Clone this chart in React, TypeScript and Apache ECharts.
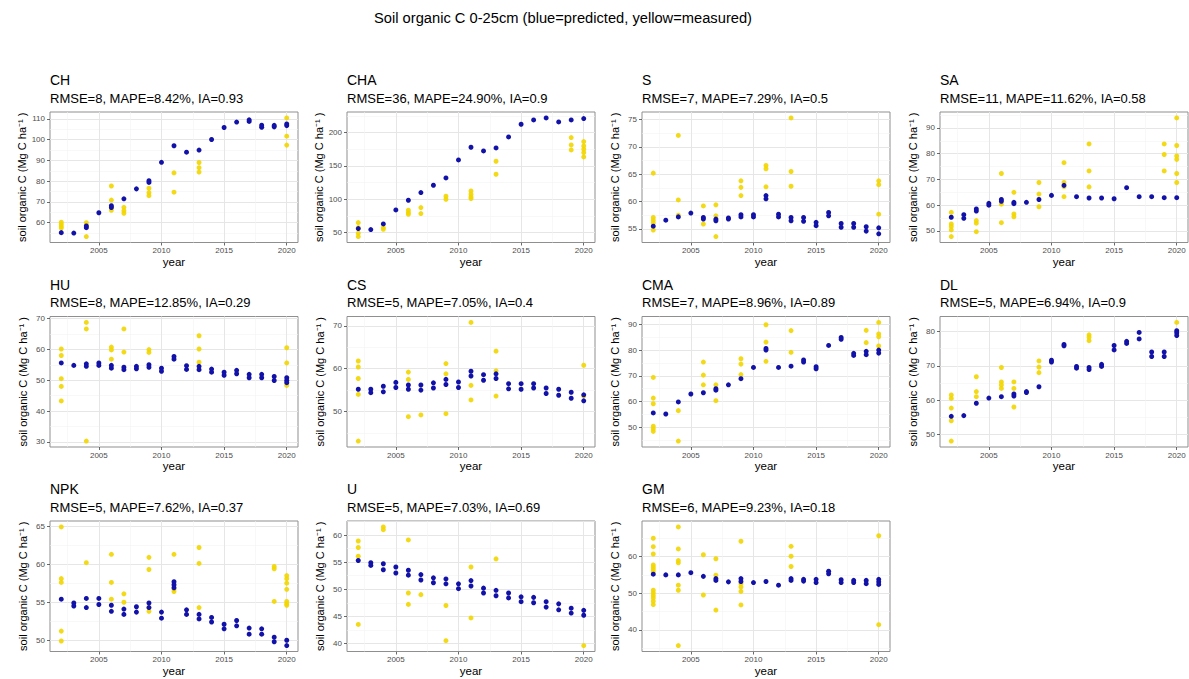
import React, { useEffect, useRef } from "react";
import * as echarts from "echarts";

// ---- shared scale values ----
const YEARS = [2002, 2003, 2004, 2005, 2006, 2007, 2008, 2009, 2010, 2011, 2012, 2013, 2014, 2015, 2016, 2017, 2018, 2019, 2020];
const YEAR_TICKS = [2005, 2010, 2015, 2020];
const YEAR_MINOR = [2002.5, 2007.5, 2012.5, 2017.5];

const MAIN_TITLE = "Soil organic C 0-25cm (blue=predicted, yellow=measured)";
const Y_NAME = "soil organic C (Mg C ha\u207B\u00B9 )";

// ---- CH ----
const chStats = "RMSE=8, MAPE=8.42%, IA=0.93";
const chPredicted = [[55.2], [55.0], [57.6, 58.4], [64.8], [67.3, 68.2], [71.5], [76.3], [79.4, 80.2], [89.1], [97.1], [94.0], [95.0], [100.1], [105.9], [108.5], [108.8, 109.6], [106.0, 107.0], [106.2, 106.9], [106.8, 107.6]];
const chMeasuredYears = [2002, 2004, 2006, 2007, 2009, 2011, 2013, 2020];
const chMeasured = [[60.2, 59.2, 58.2, 57.4], [60.0, 58.5, 53.3], [77.7, 70.9, 67.4, 66.0], [67.4, 65.8, 64.5], [76.6, 74.5, 73.0], [84.0, 74.7], [89.0, 86.5, 84.4], [110.5, 101.7, 97.4]];
const chTicks = [60, 70, 80, 90, 100, 110];

// ---- CHA ----
const chaStats = "RMSE=36, MAPE=24.90%, IA=0.9";
const chaPredicted = [[56], [54.5], [63], [84], [98.5], [110], [121], [132], [159], [178], [172.5], [177], [193.5], [212.5], [219], [222], [216], [219], [221]];
const chaMeasuredYears = [2002, 2004, 2006, 2007, 2009, 2011, 2013, 2019, 2020];
const chaMeasured = [[65, 57.5, 49, 44], [57.5, 55], [83.5, 80, 77.5], [87.5, 78.5], [104.5, 100], [112.5, 107.5, 103.5, 101], [157, 137.5], [192.5, 181.5, 174], [186.5, 180, 175, 170, 163.5]];
const chaTicks = [50, 100, 150, 200];

// ---- S ----
const sStats = "RMSE=7, MAPE=7.29%, IA=0.5";
const sPredicted = [[55.5], [56.6], [57.2], [57.9], [57.1, 56.8], [56.8, 56.5], [57.0, 56.8], [57.6, 57.2], [57.6, 57.2], [61.1, 60.5], [57.7, 57.2], [57.1, 56.5], [57.1, 56.4], [56.2, 55.6], [58.0, 57.4], [56.0, 55.3], [56.0, 55.3], [55.4, 54.6], [55.2, 54.1]];
const sMeasuredYears = [2002, 2004, 2006, 2007, 2009, 2011, 2013, 2020];
const sMeasured = [[65.2, 57.1, 56.6, 56.1, 54.8], [72.1, 60.3, 57.5], [59.2, 55.9], [59.4, 57.4, 53.6], [63.8, 62.6, 61.1], [66.6, 66.0, 62.7], [75.3, 65.5, 62.8], [63.8, 63.1, 57.7]];
const sTicks = [55, 60, 65, 70, 75];

// ---- SA ----
const saStats = "RMSE=11, MAPE=11.62%, IA=0.58";
const saPredicted = [[55.3], [56.3, 54.9], [58.5, 57.7], [60.7, 60.0], [62.2, 61.5], [61.1, 60.6], [61.1], [62.2], [63.8], [67.7], [63.3], [62.8], [62.8], [62.5], [66.8], [63.3], [63.3], [62.9], [62.9]];
const saMeasuredYears = [2002, 2004, 2006, 2007, 2009, 2011, 2013, 2019, 2020];
const saMeasured = [[57.2, 52.7, 51.7, 50.4, 47.8], [54.0, 53.0, 49.7], [72.3, 60.4, 53.2], [65.0, 56.6, 55.5], [68.8, 64.3, 59.4], [76.5, 68.8, 67.2, 63.3], [83.8, 73.3, 67.1], [83.8, 79.7, 73.3], [93.9, 83.2, 79.1, 77.8, 72.3, 68.8]];
const saTicks = [50, 60, 70, 80, 90];

// ---- HU ----
const huStats = "RMSE=8, MAPE=12.85%, IA=0.29";
const huPredicted = [[55.6], [54.8], [55.3, 54.5], [55.6, 54.8], [54.8, 53.9], [54.2, 53.4], [54.5, 53.7], [55.0, 54.2], [53.9, 52.9], [57.7, 56.8], [54.7, 53.5], [54.5, 53.4], [53.6, 52.6], [52.6, 51.6], [53.2, 52.1], [51.9, 50.8], [51.9, 50.8], [51.2, 49.9], [50.8, 49.9, 49.2]];
const huMeasuredYears = [2002, 2004, 2006, 2007, 2009, 2013, 2020];
const huMeasured = [[60.1, 58.0, 50.5, 48.0, 43.3], [68.7, 66.6, 30.3], [60.7, 59.8, 56.8], [66.6, 59.1], [59.9, 59.0], [64.4, 60.1, 55.8], [60.5, 55.6, 48.3]];
const huTicks = [30, 40, 50, 60, 70];

// ---- CS ----
const csStats = "RMSE=5, MAPE=7.05%, IA=0.4";
const csPredicted = [[55.2], [55.2, 54.4], [55.9, 54.6], [56.8, 55.6], [56.2, 55.2], [56.2, 55.0], [56.7, 55.5], [57.5, 56.3], [56.9, 55.6], [59.4, 58.3], [58.6, 57.3], [58.8, 57.7], [56.5, 55.3], [56.5, 55.2], [56.5, 55.5], [55.5, 54.2], [55.2, 53.8], [54.5, 53.1], [53.9, 52.5]];
const csMeasuredYears = [2002, 2006, 2007, 2009, 2011, 2013, 2020];
const csMeasured = [[61.8, 60.4, 57.7, 54.0, 43.1], [59.2, 57.5, 48.8], [49.2], [61.2, 58.8, 49.5], [70.8, 56.1, 52.7], [64.1, 59.5, 53.6], [60.8, 53.6]];
const csTicks = [50, 60, 70];

// ---- CMA ----
const cmaStats = "RMSE=7, MAPE=8.96%, IA=0.89";
const cmaPredicted = [[55.5], [55.1], [59.8], [62.9], [63.4], [65.0, 64.4], [66.5], [68.9], [73.3], [80.7, 80.1], [73.3], [73.8], [76.2, 75.4], [73.6, 72.8], [81.9], [85.0, 84.3], [78.8, 78.0], [79.6, 78.3], [80.1, 78.9]];
const cmaMeasuredYears = [2002, 2004, 2006, 2007, 2009, 2011, 2013, 2019, 2020];
const cmaMeasured = [[69.4, 61.3, 59.1, 50.3, 49.3, 48.3], [56.4, 44.5], [75.4, 70.3, 66.5], [66.5, 60.3], [76.7, 74.6, 70.5], [90.0, 83.2, 75.7], [87.7, 79.2], [87.8, 83.0], [90.9, 86.4, 85.3, 81.7]];
const cmaTicks = [50, 60, 70, 80, 90];

// ---- DL ----
const dlStats = "RMSE=5, MAPE=6.94%, IA=0.9";
const dlPredicted = [[55.3], [55.5], [59.1], [60.6], [61.0], [61.8, 61.2], [62.5, 62.2], [63.9], [71.6, 71.1], [76.2, 75.8], [69.8, 69.3], [69.5, 68.9], [70.4, 69.8], [75.9, 74.6], [77.1, 76.5], [79.7, 77.8], [74.0, 72.7], [74.0, 72.7], [80.2, 79.6, 78.8]];
const dlMeasuredYears = [2002, 2004, 2006, 2007, 2009, 2013, 2020];
const dlMeasured = [[61.5, 60.5, 57.7, 54.0, 48.1], [66.8, 62.5, 61.0], [69.5, 65.3, 64.4, 63.4], [65.3, 63.4, 58.0], [71.4, 69.6, 68.0], [79.0, 78.3, 77.3], [82.6]];
const dlTicks = [50, 60, 70, 80];

// ---- NPK ----
const npkStats = "RMSE=5, MAPE=7.62%, IA=0.37";
const npkPredicted = [[55.4], [54.9, 54.5], [55.5, 54.3], [55.5, 54.7], [54.6, 53.8], [54.1, 53.4], [54.4, 53.7], [54.9, 54.3], [53.7, 52.9], [57.7, 57.3, 56.9], [54.0, 53.4], [53.4, 52.8], [53.0, 52.4], [52.1, 51.5], [52.6, 51.9], [51.6, 50.8], [51.5, 50.8], [50.4, 49.8], [50.0, 49.3]];
const npkMeasuredYears = [2002, 2004, 2006, 2007, 2009, 2011, 2013, 2019, 2020];
const npkMeasured = [[64.9, 58.1, 57.6, 51.2, 49.9], [60.2], [61.3, 57.6, 55.4], [56.1, 55.0], [60.9, 59.3, 54.3, 53.8], [61.3, 56.7, 56.4], [62.2, 60.1, 54.3], [59.7, 59.4, 55.1], [58.5, 58.1, 57.5, 56.7, 55.1, 54.8, 54.6]];
const npkTicks = [50, 55, 60, 65];

// ---- U ----
const uStats = "RMSE=5, MAPE=7.03%, IA=0.69";
const uPredicted = [[55.3], [54.9, 54.4], [54.7, 53.6], [54.1, 53.0], [53.5, 52.6], [52.7, 51.7], [52.1, 51.2], [51.9, 51.0], [51.0, 50.1], [51.6, 50.6], [50.2, 49.3], [49.8, 48.8], [49.3, 48.4], [48.6, 47.7], [48.5, 47.5], [47.7, 46.7], [47.3, 46.2], [46.5, 45.6], [46.1, 45.2]];
const uMeasuredYears = [2002, 2004, 2006, 2007, 2009, 2011, 2013, 2020];
const uMeasured = [[58.9, 57.7, 56.1, 43.5], [61.5, 61.0], [59.1, 49.3, 47.2], [49.0], [47.0, 40.5], [54.1, 44.7], [55.6], [39.6]];
const uTicks = [40, 45, 50, 55, 60];

// ---- GM ----
const gmStats = "RMSE=6, MAPE=9.23%, IA=0.18";
const gmPredicted = [[55.2], [55.0], [55.0], [55.6], [54.6], [54.0, 53.5], [53.1], [54.0, 53.2], [52.9], [53.2], [52.2], [54.0, 53.5], [53.8, 53.3], [53.8, 52.9], [56.0, 55.3], [53.7, 52.9], [53.5, 52.9], [53.5, 52.6], [53.8, 53.1, 52.4]];
const gmMeasuredYears = [2002, 2004, 2006, 2007, 2009, 2013, 2020];
const gmMeasured = [[65.0, 62.7, 60.7, 57.7, 57.1, 56.5, 55.8, 50.8, 50.1, 49.4, 48.7, 47.8, 46.9], [68.1, 62.1, 58.9, 58.3, 52.2, 50.8, 35.7], [60.5, 49.5], [59.4, 54.9, 45.4], [64.2, 52.6, 51.7, 50.5, 46.8], [62.8, 60.1, 57.3], [65.7, 41.4]];
const gmTicks = [40, 50, 60];

type Panel = {
  name: string;
  stats: string;
  predicted: number[][];
  measuredYears: number[];
  measured: number[][];
  ticks: number[];
};

const PANELS: Panel[] = [
  { name: "CH", stats: chStats, predicted: chPredicted, measuredYears: chMeasuredYears, measured: chMeasured, ticks: chTicks },
  { name: "CHA", stats: chaStats, predicted: chaPredicted, measuredYears: chaMeasuredYears, measured: chaMeasured, ticks: chaTicks },
  { name: "S", stats: sStats, predicted: sPredicted, measuredYears: sMeasuredYears, measured: sMeasured, ticks: sTicks },
  { name: "SA", stats: saStats, predicted: saPredicted, measuredYears: saMeasuredYears, measured: saMeasured, ticks: saTicks },
  { name: "HU", stats: huStats, predicted: huPredicted, measuredYears: huMeasuredYears, measured: huMeasured, ticks: huTicks },
  { name: "CS", stats: csStats, predicted: csPredicted, measuredYears: csMeasuredYears, measured: csMeasured, ticks: csTicks },
  { name: "CMA", stats: cmaStats, predicted: cmaPredicted, measuredYears: cmaMeasuredYears, measured: cmaMeasured, ticks: cmaTicks },
  { name: "DL", stats: dlStats, predicted: dlPredicted, measuredYears: dlMeasuredYears, measured: dlMeasured, ticks: dlTicks },
  { name: "NPK", stats: npkStats, predicted: npkPredicted, measuredYears: npkMeasuredYears, measured: npkMeasured, ticks: npkTicks },
  { name: "U", stats: uStats, predicted: uPredicted, measuredYears: uMeasuredYears, measured: uMeasured, ticks: uTicks },
  { name: "GM", stats: gmStats, predicted: gmPredicted, measuredYears: gmMeasuredYears, measured: gmMeasured, ticks: gmTicks },
];

// ---- layout ----
const WIDTH = 1189;
const HEIGHT = 679;
const COL_LEFT = [50, 347, 642, 940];
const ROW_TOP = [112, 316.5, 521];
const PANEL_W = 248;
const PANEL_H = 130.5;

const FONT = "'Liberation Sans', Arial, Helvetica, sans-serif";
const BLUE = "#1212a8";
const YELLOW = "#f2d600";

function toPairs(years: number[], values: number[][]): number[][] {
  const out: number[][] = [];
  years.forEach((y, i) => values[i].forEach((v) => out.push([y, v])));
  return out;
}

// ggplot-style continuous limits: data range expanded by 5 % on both sides
function expand(lo: number, hi: number): [number, number] {
  const d = (hi - lo) * 0.05;
  return [lo - d, hi + d];
}

function minorBreaks(ticks: number[], lo: number, hi: number): number[] {
  const step = ticks[1] - ticks[0];
  const out: number[] = [];
  const first = ticks[0] - step / 2;
  if (first >= lo) out.push(first);
  for (let i = 0; i < ticks.length - 1; i++) out.push((ticks[i] + ticks[i + 1]) / 2);
  const last = ticks[ticks.length - 1] + step / 2;
  if (last <= hi) out.push(last);
  return out;
}

const plain = (v: number) => String(v);

function buildOption(): echarts.EChartsOption {
  const grids: any[] = [];
  const xAxes: any[] = [];
  const yAxes: any[] = [];
  const series: any[] = [];
  const graphics: any[] = [];

  const [xMin, xMax] = expand(YEARS[0], YEARS[YEARS.length - 1]);

  graphics.push({
    type: "text",
    x: 563,
    y: 18,
    style: {
      text: MAIN_TITLE,
      font: `14.7px ${FONT}`,
      fill: "#000",
      align: "center",
      verticalAlign: "middle",
    },
  });

  PANELS.forEach((p, i) => {
    const left = COL_LEFT[i % 4];
    const top = ROW_TOP[Math.floor(i / 4)];
    const predicted = toPairs(YEARS, p.predicted);
    const measured = toPairs(p.measuredYears, p.measured);
    const all = predicted.concat(measured).map((d) => d[1]);
    const [yMin, yMax] = expand(Math.min(...all), Math.max(...all));

    grids.push({
      left,
      top,
      width: PANEL_W,
      height: PANEL_H,
      show: true,
      backgroundColor: "#fff",
      borderColor: "#8f8f8f",
      borderWidth: 1,
    });

    const labelStyle = { fontSize: 8, color: "#4d4d4d", fontFamily: FONT, formatter: plain };

    // major x axis
    xAxes.push({
      gridIndex: i,
      type: "value",
      min: xMin,
      max: xMax,
      name: "year",
      nameLocation: "middle",
      nameGap: 13,
      nameTextStyle: { fontSize: 11.5, color: "#000", fontFamily: FONT },
      axisLine: { show: false },
      axisTick: { show: true, length: 3, customValues: YEAR_TICKS, lineStyle: { color: "#444", width: 0.8 } },
      axisLabel: { ...labelStyle, margin: 4, customValues: YEAR_TICKS },
      splitLine: { show: true, lineStyle: { color: "#e6e6e6", width: 1 } },
    });
    // minor x grid
    xAxes.push({
      gridIndex: i,
      type: "value",
      min: xMin,
      max: xMax,
      axisLine: { show: false },
      axisTick: { show: false, customValues: YEAR_MINOR },
      axisLabel: { show: false, customValues: YEAR_MINOR },
      splitLine: { show: true, lineStyle: { color: "#f3f3f3", width: 0.6 } },
    });

    const yMinor = minorBreaks(p.ticks, yMin, yMax);
    yAxes.push({
      gridIndex: i,
      type: "value",
      min: yMin,
      max: yMax,
      name: Y_NAME,
      nameLocation: "middle",
      nameGap: 22,
      nameTextStyle: { fontSize: 11, color: "#000", fontFamily: FONT },
      axisLine: { show: false },
      axisTick: { show: true, length: 3, customValues: p.ticks, lineStyle: { color: "#444", width: 0.8 } },
      axisLabel: { ...labelStyle, margin: 5, customValues: p.ticks },
      splitLine: { show: true, lineStyle: { color: "#e6e6e6", width: 1 } },
    });
    yAxes.push({
      gridIndex: i,
      type: "value",
      min: yMin,
      max: yMax,
      position: "right",
      axisLine: { show: false },
      axisTick: { show: false, customValues: yMinor },
      axisLabel: { show: false, customValues: yMinor },
      splitLine: { show: true, lineStyle: { color: "#f3f3f3", width: 0.6 } },
    });

    series.push({
      type: "scatter",
      name: `${p.name} measured`,
      xAxisIndex: i * 2,
      yAxisIndex: i * 2,
      data: measured,
      symbolSize: 5,
      itemStyle: { color: YELLOW, opacity: 0.9 },
      z: 3,
    });
    series.push({
      type: "scatter",
      name: `${p.name} predicted`,
      xAxisIndex: i * 2,
      yAxisIndex: i * 2,
      data: predicted,
      symbolSize: 5,
      itemStyle: { color: BLUE, opacity: 1 },
      z: 4,
    });

    graphics.push({
      type: "text",
      x: left,
      y: top - 32,
      style: { text: p.name, font: `14px ${FONT}`, fill: "#000", verticalAlign: "middle" },
    });
    graphics.push({
      type: "text",
      x: left,
      y: top - 14,
      style: { text: p.stats, font: `13px ${FONT}`, fill: "#000", verticalAlign: "middle" },
    });
  });

  return {
    animation: false,
    backgroundColor: "#fff",
    textStyle: { fontFamily: FONT },
    grid: grids,
    xAxis: xAxes,
    yAxis: yAxes,
    series,
    graphic: graphics,
  };
}

export default function App() {
  const ref = useRef<HTMLDivElement>(null);

  useEffect(() => {
    if (!ref.current) return;
    const chart = echarts.init(ref.current, undefined, { renderer: "svg" });
    chart.setOption(buildOption());
    return () => chart.dispose();
  }, []);

  return (
    <div
      ref={ref}
      style={{ position: "fixed", left: 0, top: 0, width: WIDTH, height: HEIGHT, background: "#fff" }}
    />
  );
}
